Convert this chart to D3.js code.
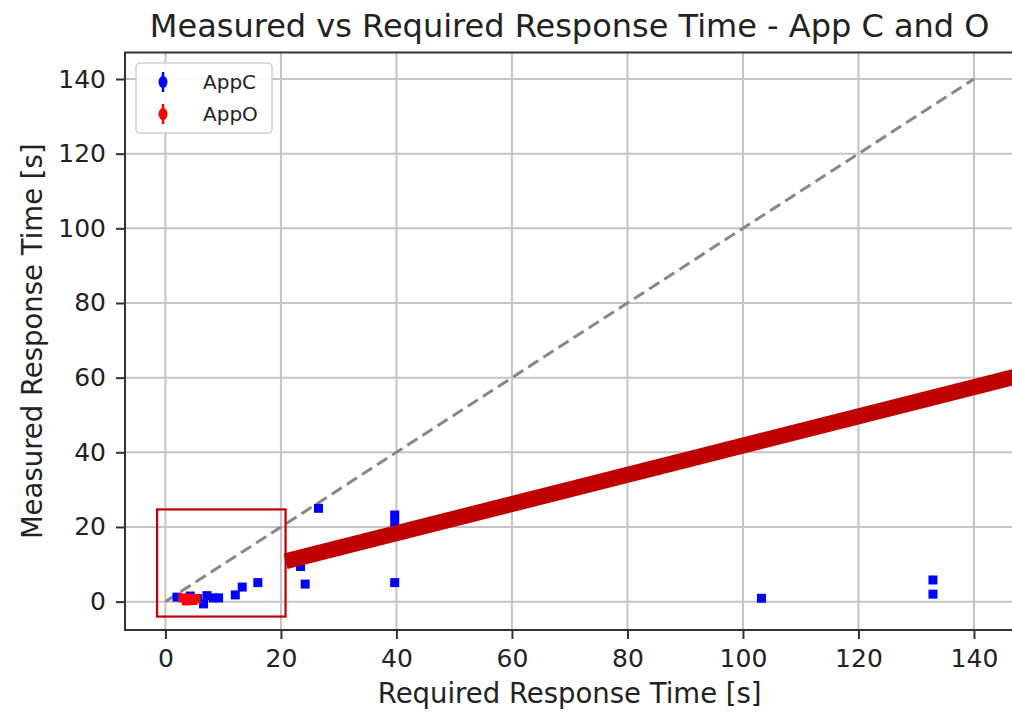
<!DOCTYPE html>
<html>
<head>
<meta charset="utf-8">
<script src="https://cdn.jsdelivr.net/npm/d3@7"></script>
<style>
  body { margin: 0; background: #fff; }
  text { font-family: "DejaVu Sans", sans-serif; }
</style>
</head>
<body>
<div id="chart"></div>
<script>
// values
const appCx = [2.0, 4.3, 5.6, 6.6, 7.2, 8.3, 9.2, 12.1, 13.3, 16.0, 23.4, 24.2, 26.5, 39.7, 39.7, 39.7, 103.2, 132.9, 132.9];
const appCy = [1.2, 1.5, 0.8, -0.6, 1.6, 1.0, 1.0, 1.8, 3.9, 5.1, 9.4, 4.7, 25.0, 23.2, 21.0, 5.1, 0.9, 5.8, 2.0];
const appOx = [3.0, 3.6, 4.2, 4.8, 5.3];
const appOy = [1.0, 0.2, 0.9, 0.3, 0.8];
const diagonal = [[0, 0], [140, 140]];
const xTicks = [0, 20, 40, 60, 80, 100, 120, 140];
const yTicks = [0, 20, 40, 60, 80, 100, 120, 140];
const seriesNames = ["AppC", "AppO"];
const seriesColors = ["#0000ff", "#ff0000"];
// hand-drawn annotation (box round the low cluster, thick trend bar)
const boxX = [-1.45, 20.8], boxY = [-4.0, 24.7];
const trend = [[20.8, 10.8], [147.5, 60.4]];

const width = 1012, height = 717;
const margin = { left: 125, top: 52.5, right: 1014.4, bottom: 630 };

const svg = d3.select("#chart").append("svg")
  .attr("width", width)
  .attr("height", height);

const x = d3.scaleLinear().domain([-7, 147]).range([margin.left, margin.right]);
const y = d3.scaleLinear().domain([-7.6, 147.1]).range([margin.bottom, margin.top]);

// grid
svg.append("g").selectAll("line").data(xTicks).enter().append("line")
  .attr("x1", d => x(d)).attr("x2", d => x(d))
  .attr("y1", margin.top).attr("y2", margin.bottom)
  .attr("stroke", "#c4c4c4").attr("stroke-width", 2);
svg.append("g").selectAll("line").data(yTicks).enter().append("line")
  .attr("y1", d => y(d)).attr("y2", d => y(d))
  .attr("x1", margin.left).attr("x2", margin.right)
  .attr("stroke", "#c4c4c4").attr("stroke-width", 2);

// axes
const xAxis = svg.append("g")
  .attr("transform", `translate(0,${margin.bottom})`)
  .call(d3.axisBottom(x).tickValues(xTicks).tickSize(9).tickPadding(10));
const yAxis = svg.append("g")
  .attr("transform", `translate(${margin.left},0)`)
  .call(d3.axisLeft(y).tickValues(yTicks).tickSize(9).tickPadding(10));
[xAxis, yAxis].forEach(a => {
  a.select(".domain").remove();
  a.selectAll("line").attr("stroke", "#333").attr("stroke-width", 2);
  a.selectAll("text").attr("fill", "#222").style("font-size", "25px")
    .style("font-family", "DejaVu Sans");
});

// spines
svg.append("rect")
  .attr("x", margin.left).attr("y", margin.top)
  .attr("width", margin.right - margin.left).attr("height", margin.bottom - margin.top)
  .attr("fill", "none").attr("stroke", "#333").attr("stroke-width", 2);

// y = x reference
svg.append("path")
  .datum(diagonal)
  .attr("d", d3.line().x(d => x(d[0])).y(d => y(d[1])))
  .attr("fill", "none")
  .attr("stroke", "#888")
  .attr("stroke-width", 3)
  .attr("stroke-dasharray", "12 6");

// points
function drawSeries(xs, ys, color) {
  const pts = xs.map((v, i) => ({ x: v, y: ys[i] }));
  svg.append("g").selectAll("rect").data(pts).enter().append("rect")
    .attr("x", d => x(d.x) - 4.5)
    .attr("y", d => y(d.y) - 4.5)
    .attr("width", 9).attr("height", 9)
    .attr("fill", color);
}
drawSeries(appCx, appCy, seriesColors[0]);
drawSeries(appOx, appOy, seriesColors[1]);

// annotation
svg.append("rect")
  .attr("x", x(boxX[0])).attr("y", y(boxY[1]))
  .attr("width", x(boxX[1]) - x(boxX[0]))
  .attr("height", y(boxY[0]) - y(boxY[1]))
  .attr("fill", "none").attr("stroke", "#c00000").attr("stroke-width", 2.2);

svg.append("path")
  .datum(trend)
  .attr("d", d3.line().x(d => x(d[0])).y(d => y(d[1])))
  .attr("stroke", "#c00000")
  .attr("stroke-width", 16);

// legend
const legend = svg.append("g");
legend.append("rect")
  .attr("x", 136).attr("y", 63).attr("width", 136).attr("height", 70)
  .attr("rx", 4)
  .attr("fill", "#fff").attr("fill-opacity", 0.9)
  .attr("stroke", "#d0d0d0").attr("stroke-width", 1.5);

const item = legend.selectAll(".legend-item")
  .data(seriesNames)
  .enter().append("g")
  .attr("class", "legend-item")
  .attr("transform", (d, i) => `translate(163, ${82 + i * 32})`);

item.append("line")
  .attr("y1", -10).attr("y2", 10)
  .attr("stroke", (d, i) => seriesColors[i]).attr("stroke-width", 2.5);
item.append("ellipse")
  .attr("rx", 4.5).attr("ry", 6)
  .attr("fill", (d, i) => seriesColors[i]);
item.append("text")
  .attr("x", 40).attr("y", 7)
  .text(d => d)
  .attr("fill", "#222")
  .style("font-size", "20px");

// titles
svg.append("text")
  .attr("x", (margin.left + margin.right) / 2).attr("y", 37)
  .attr("text-anchor", "middle")
  .attr("fill", "#222")
  .style("font-size", "32px")
  .text("Measured vs Required Response Time - App C and O");

svg.append("text")
  .attr("x", (margin.left + margin.right) / 2).attr("y", 703)
  .attr("text-anchor", "middle")
  .attr("fill", "#222")
  .style("font-size", "27.5px")
  .text("Required Response Time [s]");

svg.append("text")
  .attr("transform", `translate(42, ${(margin.top + margin.bottom) / 2}) rotate(-90)`)
  .attr("text-anchor", "middle")
  .attr("fill", "#222")
  .style("font-size", "27.5px")
  .text("Measured Response Time [s]");
</script>
</body>
</html>
